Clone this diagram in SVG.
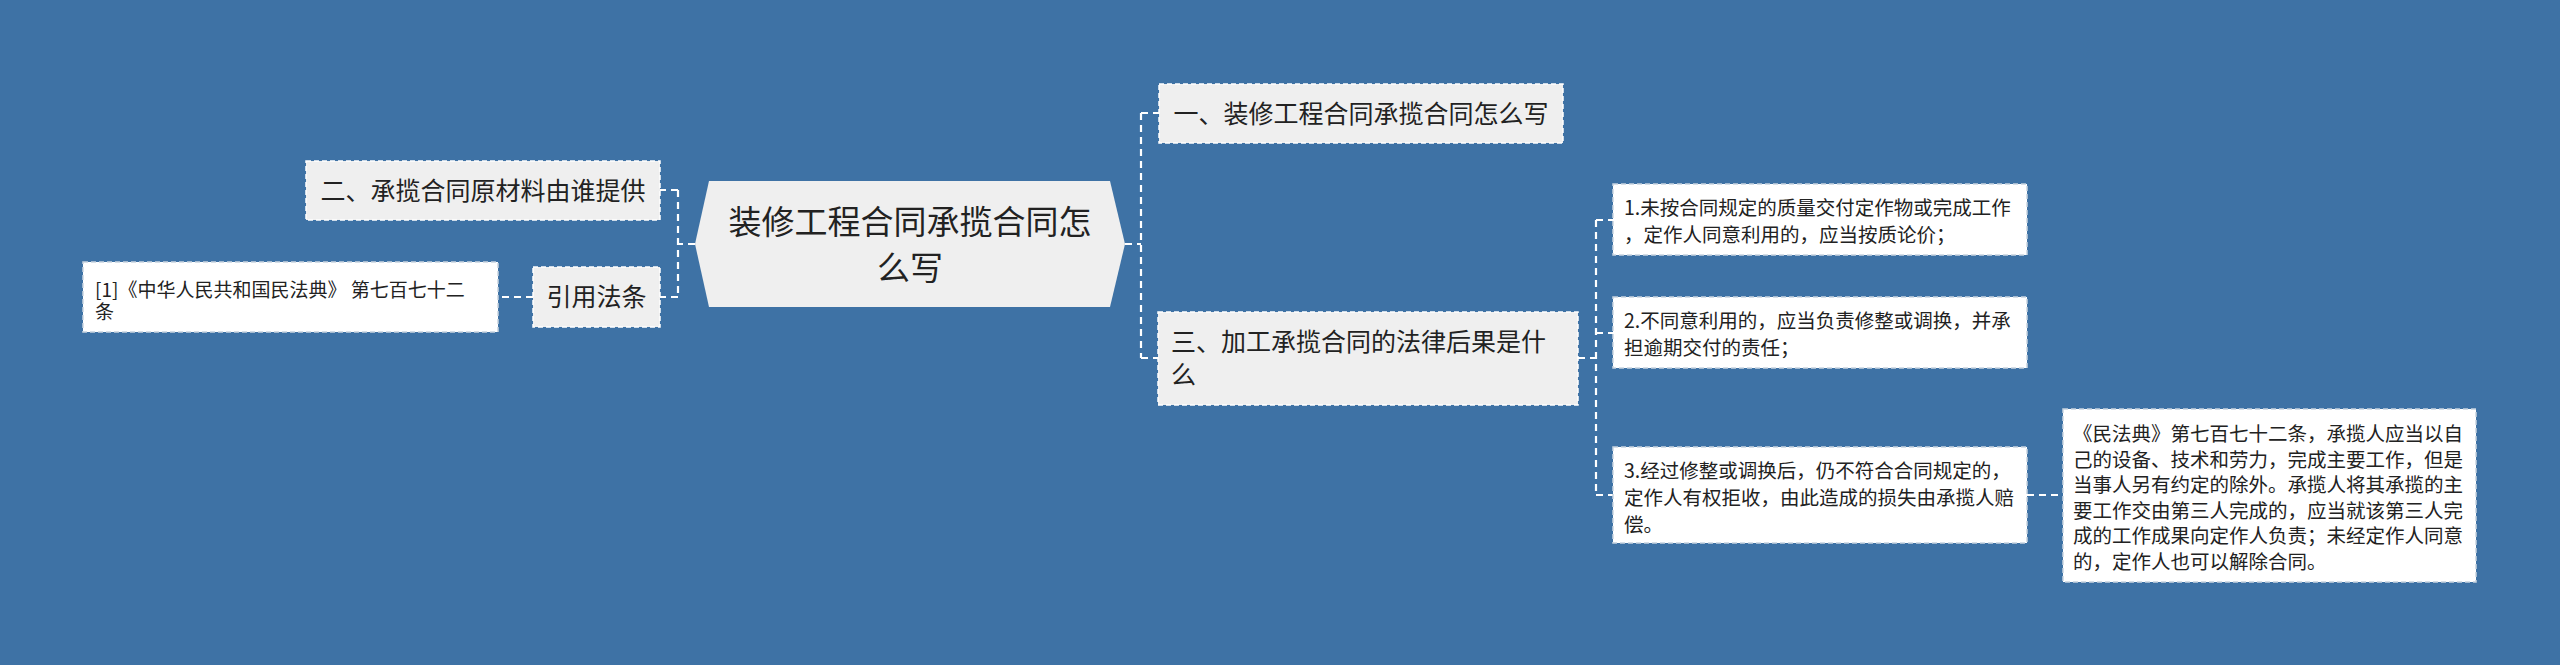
<svg xmlns="http://www.w3.org/2000/svg" width="2560" height="665" viewBox="0 0 2560 665">
<style>
.bg{fill:#3e72a5}
.box{fill:#efefef;stroke:#ffffff;stroke-width:1.5;stroke-dasharray:5,3}
.wbox{fill:#ffffff;stroke:#c8d4e0;stroke-width:1.5;stroke-dasharray:5,3}
.conn line{stroke:#ffffff;stroke-width:2.2;stroke-dasharray:7,5;fill:none}
text{font-family:"Noto Sans CJK SC","Microsoft YaHei",sans-serif;fill:#222222}
.t33{font-size:33px}
.t25{font-size:25px}
.t19{font-size:19.5px}
.t18{font-size:19px}
</style>
<rect class="bg" x="0" y="0" width="2560" height="665"/>
<g id="connectors" class="conn">
<line x1="695" y1="244" x2="678" y2="244"/>
<line x1="678" y1="190" x2="678" y2="297"/>
<line x1="678" y1="190" x2="660" y2="190"/>
<line x1="678" y1="297" x2="660" y2="297"/>
<line x1="533" y1="297" x2="498" y2="297"/>
<line x1="1125" y1="244" x2="1141" y2="244"/>
<line x1="1141" y1="113" x2="1141" y2="358"/>
<line x1="1141" y1="113" x2="1159" y2="113"/>
<line x1="1141" y1="358" x2="1158" y2="358"/>
<line x1="1578" y1="358" x2="1596" y2="358"/>
<line x1="1596" y1="220" x2="1596" y2="495"/>
<line x1="1596" y1="220" x2="1613" y2="220"/>
<line x1="1596" y1="333" x2="1613" y2="333"/>
<line x1="1596" y1="495" x2="1613" y2="495"/>
<line x1="2027" y1="495" x2="2063" y2="495"/>
</g>
<g id="center">
<polygon points="695,244 709,181 1110,181 1125,244 1110,307 709,307" fill="#efefef"/>
<text class="t33" x="910" y="234" text-anchor="middle">装修工程合同承揽合同怎</text>
<text class="t33" x="910" y="280" text-anchor="middle">么写</text>
</g>
<g id="n2">
<rect class="box" x="306" y="161" width="354" height="59"/>
<text class="t25" x="483" y="200" text-anchor="middle">二、承揽合同原材料由谁提供</text>
</g>
<g id="ref">
<rect class="box" x="533" y="267" width="127" height="60"/>
<text class="t25" x="596.5" y="306" text-anchor="middle">引用法条</text>
</g>
<g id="cite">
<rect class="wbox" x="83" y="262" width="415" height="70"/>
<text class="t18" x="95" y="297">[1]《中华人民共和国民法典》 第七百七十二</text>
<text class="t18" x="95" y="319">条</text>
</g>
<g id="n1">
<rect class="box" x="1159" y="84" width="404" height="59"/>
<text class="t25" x="1361" y="123" text-anchor="middle">一、装修工程合同承揽合同怎么写</text>
</g>
<g id="n3">
<rect class="box" x="1158" y="312" width="420" height="93"/>
<text class="t25" x="1171" y="351">三、加工承揽合同的法律后果是什</text>
<text class="t25" x="1171" y="384">么</text>
</g>
<g id="c1">
<rect class="wbox" x="1613" y="184" width="414" height="71"/>
<text class="t19" x="1624" y="215">1.未按合同规定的质量交付定作物或完成工作</text>
<text class="t19" x="1624" y="242">，定作人同意利用的，应当按质论价；</text>
</g>
<g id="c2">
<rect class="wbox" x="1613" y="297" width="414" height="71"/>
<text class="t19" x="1624" y="328">2.不同意利用的，应当负责修整或调换，并承</text>
<text class="t19" x="1624" y="355">担逾期交付的责任；</text>
</g>
<g id="c3">
<rect class="wbox" x="1613" y="447" width="414" height="96"/>
<text class="t19" x="1624" y="478">3.经过修整或调换后，仍不符合合同规定的，</text>
<text class="t19" x="1624" y="505">定作人有权拒收，由此造成的损失由承揽人赔</text>
<text class="t19" x="1624" y="532">偿。</text>
</g>
<g id="c4">
<rect class="wbox" x="2063" y="409" width="413" height="173"/>
<text class="t19" x="2073" y="441">《民法典》第七百七十二条，承揽人应当以自</text>
<text class="t19" x="2073" y="466.5">己的设备、技术和劳力，完成主要工作，但是</text>
<text class="t19" x="2073" y="492">当事人另有约定的除外。承揽人将其承揽的主</text>
<text class="t19" x="2073" y="517.5">要工作交由第三人完成的，应当就该第三人完</text>
<text class="t19" x="2073" y="543">成的工作成果向定作人负责；未经定作人同意</text>
<text class="t19" x="2073" y="568.5">的，定作人也可以解除合同。</text>
</g>
</svg>
